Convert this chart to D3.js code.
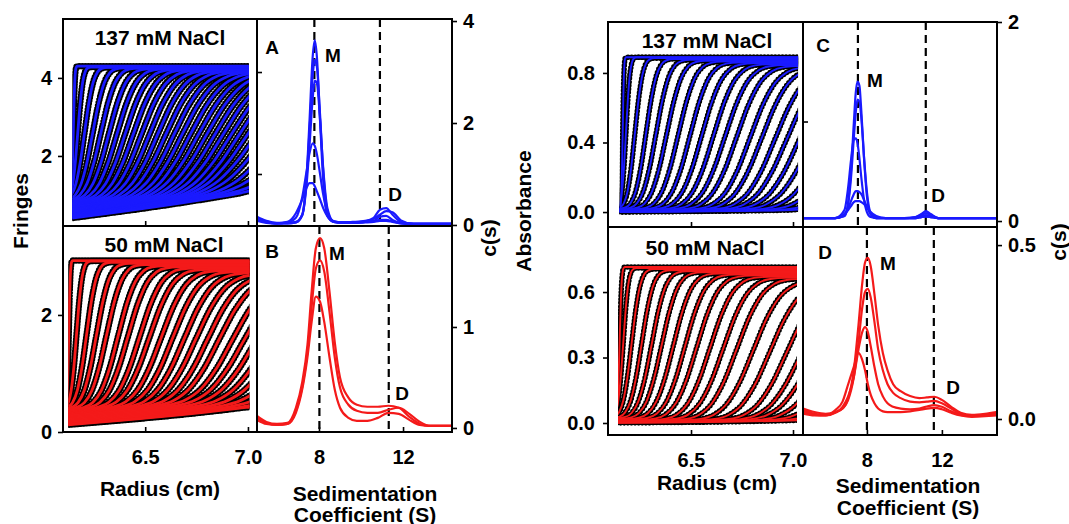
<!DOCTYPE html>
<html>
<head>
<meta charset="utf-8">
<script src="https://cdn.jsdelivr.net/npm/d3@7"></script>
<style>
  body { margin: 0; background: #fff; }
  text { font-family: "Liberation Sans", Arial, sans-serif; font-weight: bold; }
</style>
</head>
<body>
<svg id="fig" width="1069" height="524"></svg>
<script>
// ---- radial scans: boundary midpoint (cm), spread (cm), plateau, baseline offset ----
const tlMid = [6.150, 6.172, 6.205, 6.245, 6.285, 6.325, 6.365, 6.405, 6.445, 6.485, 6.525, 6.565, 6.605, 6.645, 6.685, 6.725, 6.765, 6.805, 6.845, 6.885, 6.925, 6.965, 7.005, 7.05, 7.10, 7.16, 7.23, 7.31, 7.40];
const tlSig = [0.006, 0.02, 0.035, 0.047, 0.057, 0.066, 0.074, 0.081, 0.088, 0.094, 0.1, 0.106, 0.111, 0.116, 0.121, 0.126, 0.131, 0.135, 0.139, 0.143, 0.147, 0.151, 0.155, 0.159, 0.163, 0.167, 0.171, 0.175, 0.18];
const tlTop = [4.3, 4.28, 4.27, 4.26, 4.25, 4.24, 4.23, 4.22, 4.21, 4.2, 4.19, 4.18, 4.17, 4.16, 4.15, 4.14, 4.13, 4.12, 4.11, 4.1, 4.09, 4.08, 4.07, 4.06, 4.05, 4.04, 4.03, 4.02, 4.01];
const tlOff = [0.5, 0.5, 0.48, 0.46, 0.44, 0.42, 0.4, 0.38, 0.36, 0.34, 0.32, 0.3, 0.28, 0.26, 0.24, 0.22, 0.2, 0.18, 0.16, 0.14, 0.12, 0.1, 0.09, 0.08, 0.07, 0.05, 0.04, 0.02, 0];

const blMid = [6.128, 6.166, 6.215, 6.263, 6.312, 6.369, 6.417, 6.474, 6.522, 6.579, 6.635, 6.692, 6.749, 6.806, 6.862, 6.927, 6.983, 7.04, 7.10, 7.16, 7.23, 7.30, 7.38, 7.47];
const blSig = [0.006, 0.022, 0.038, 0.05, 0.06, 0.069, 0.077, 0.084, 0.091, 0.097, 0.103, 0.109, 0.114, 0.119, 0.124, 0.129, 0.134, 0.138, 0.142, 0.146, 0.15, 0.154, 0.158, 0.162];
const blTop = [2.93, 2.92, 2.9, 2.88, 2.86, 2.84, 2.82, 2.8, 2.78, 2.76, 2.74, 2.72, 2.7, 2.68, 2.66, 2.64, 2.62, 2.6, 2.58, 2.56, 2.54, 2.52, 2.5, 2.48];
const blOff = [0.3, 0.29, 0.28, 0.27, 0.26, 0.25, 0.24, 0.23, 0.22, 0.21, 0.2, 0.19, 0.18, 0.17, 0.16, 0.15, 0.13, 0.11, 0.09, 0.07, 0.05, 0.03, 0.01, 0];

const trMid = [6.165, 6.181, 6.225, 6.279, 6.328, 6.380, 6.437, 6.495, 6.552, 6.609, 6.666, 6.723, 6.789, 6.846, 6.912, 6.969, 7.03, 7.09, 7.16, 7.23, 7.31, 7.40];
const trSig = [0.005, 0.016, 0.03, 0.042, 0.052, 0.06, 0.067, 0.074, 0.08, 0.086, 0.092, 0.097, 0.102, 0.107, 0.112, 0.117, 0.121, 0.125, 0.129, 0.133, 0.137, 0.141];
const trTop = [0.89, 0.89, 0.885, 0.88, 0.875, 0.87, 0.865, 0.86, 0.855, 0.85, 0.845, 0.84, 0.835, 0.83, 0.825, 0.82, 0.815, 0.81, 0.805, 0.8, 0.795, 0.79];
const trOff = [0.02, 0.02, 0.02, 0.019, 0.018, 0.017, 0.016, 0.015, 0.014, 0.013, 0.012, 0.011, 0.01, 0.009, 0.008, 0.007, 0.006, 0.005, 0.004, 0.003, 0.002, 0.001];

const brMid = [6.150, 6.168, 6.209, 6.258, 6.307, 6.356, 6.413, 6.470, 6.528, 6.593, 6.658, 6.724, 6.805, 6.887, 6.969, 7.04, 7.10, 7.17, 7.25, 7.33, 7.42];
const brSig = [0.008, 0.02, 0.034, 0.045, 0.054, 0.062, 0.07, 0.077, 0.084, 0.09, 0.096, 0.102, 0.108, 0.113, 0.118, 0.123, 0.128, 0.133, 0.138, 0.143, 0.148];
const brTop = [0.715, 0.71, 0.705, 0.7, 0.695, 0.69, 0.685, 0.68, 0.675, 0.67, 0.665, 0.66, 0.65, 0.64, 0.63, 0.62, 0.61, 0.6, 0.59, 0.58, 0.57];
const brOff = [0.03, 0.028, 0.026, 0.024, 0.022, 0.02, 0.018, 0.016, 0.014, 0.012, 0.011, 0.01, 0.009, 0.008, 0.007, 0.006, 0.005, 0.004, 0.003, 0.002, 0.001];

// shared boundary shape: offset in spreads -> fraction of plateau
const profOff  = [-3.2, -2.4, -1.8, -1.2, -0.6, 0, 0.6, 1.2, 1.8, 2.4, 3.2];
const profFrac = [0, 0.008, 0.036, 0.115, 0.274, 0.5, 0.726, 0.885, 0.964, 0.992, 1];

// ---- c(s) distributions ----
const sA = [5.05, 5.5, 6.0, 6.5, 6.9, 7.2, 7.4, 7.55, 7.7, 7.8, 7.9, 8.05, 8.2, 8.4, 8.7, 9.1, 9.6, 10.2, 10.6, 10.9, 11.2, 11.5, 11.9, 12.5, 13.3, 14.3];
const csA = [
  [0.16, 0.08, 0.04, 0.04, 0.06, 0.19, 0.88, 2.05, 3.30, 3.62, 3.30, 2.05, 0.88, 0.18, 0.06, 0.05, 0.06, 0.08, 0.14, 0.3, 0.33, 0.2, 0.06, 0.02, 0.02, 0.02],
  [0.14, 0.07, 0.03, 0.03, 0.05, 0.2, 0.87, 1.86, 2.92, 3.24, 3.1, 2.17, 1.07, 0.28, 0.06, 0.05, 0.05, 0.07, 0.12, 0.2, 0.27, 0.25, 0.09, 0.02, 0.02, 0.02],
  [0.12, 0.06, 0.03, 0.03, 0.05, 0.19, 0.75, 1.56, 2.48, 2.83, 2.78, 2.07, 1.12, 0.33, 0.07, 0.05, 0.05, 0.06, 0.08, 0.16, 0.18, 0.1, 0.04, 0.02, 0.02, 0.02],
  [0.1, 0.05, 0.03, 0.05, 0.14, 0.54, 1.03, 1.41, 1.6, 1.55, 1.39, 1.0, 0.6, 0.24, 0.07, 0.05, 0.05, 0.06, 0.07, 0.1, 0.1, 0.07, 0.03, 0.02, 0.02, 0.02],
  [0.08, 0.04, 0.03, 0.06, 0.23, 0.5, 0.72, 0.82, 0.82, 0.76, 0.66, 0.5, 0.33, 0.17, 0.06, 0.04, 0.04, 0.05, 0.06, 0.08, 0.08, 0.06, 0.03, 0.02, 0.02, 0.02]
];
const sB = [5.05, 5.5, 6.0, 6.5, 6.9, 7.2, 7.45, 7.65, 7.85, 8.05, 8.25, 8.5, 8.75, 9.0, 9.4, 9.8, 10.3, 10.8, 11.3, 11.8, 12.3, 12.8, 13.3, 14.3];
const csB = [
  [0.12, 0.06, 0.04, 0.05, 0.2, 0.45, 0.82, 1.35, 1.78, 1.88, 1.78, 1.35, 0.85, 0.5, 0.3, 0.23, 0.21, 0.21, 0.22, 0.2, 0.11, 0.04, 0.02, 0.02],
  [0.1, 0.05, 0.03, 0.04, 0.17, 0.4, 0.75, 1.2, 1.58, 1.66, 1.55, 1.15, 0.7, 0.4, 0.23, 0.17, 0.15, 0.15, 0.18, 0.2, 0.14, 0.06, 0.02, 0.02],
  [0.08, 0.04, 0.03, 0.04, 0.15, 0.38, 0.7, 1.05, 1.3, 1.25, 1.05, 0.7, 0.38, 0.2, 0.1, 0.07, 0.07, 0.1, 0.15, 0.14, 0.08, 0.03, 0.02, 0.02]
];
const sC = [4.6, 5.5, 6.3, 6.8, 7.0, 7.15, 7.3, 7.4, 7.5, 7.6, 7.7, 7.85, 8.0, 8.2, 8.5, 9.0, 10.0, 10.6, 10.9, 11.15, 11.4, 11.8, 12.5, 13.5, 14.9];
const csC = [
  [0.03, 0.03, 0.03, 0.05, 0.19, 0.5, 0.98, 1.28, 1.40, 1.36, 1.11, 0.62, 0.25, 0.065, 0.03, 0.03, 0.03, 0.04, 0.07, 0.1, 0.07, 0.03, 0.03, 0.03, 0.03],
  [0.03, 0.03, 0.03, 0.05, 0.17, 0.43, 0.83, 1.08, 1.22, 1.2, 1.04, 0.63, 0.29, 0.08, 0.03, 0.03, 0.03, 0.04, 0.06, 0.08, 0.06, 0.03, 0.03, 0.03, 0.03],
  [0.03, 0.03, 0.03, 0.11, 0.34, 0.61, 0.82, 0.83, 0.78, 0.63, 0.44, 0.21, 0.09, 0.04, 0.03, 0.03, 0.03, 0.03, 0.05, 0.06, 0.05, 0.03, 0.03, 0.03, 0.03],
  [0.03, 0.03, 0.03, 0.07, 0.13, 0.2, 0.27, 0.3, 0.3, 0.29, 0.27, 0.21, 0.14, 0.07, 0.04, 0.03, 0.03, 0.03, 0.04, 0.05, 0.04, 0.03, 0.03, 0.03, 0.03],
  [0.03, 0.03, 0.03, 0.07, 0.11, 0.15, 0.19, 0.2, 0.2, 0.2, 0.19, 0.17, 0.14, 0.09, 0.05, 0.03, 0.03, 0.03, 0.04, 0.045, 0.04, 0.03, 0.03, 0.03, 0.03]
];
const sD = [4.6, 5.2, 5.8, 6.3, 6.7, 7.0, 7.3, 7.55, 7.75, 7.9, 8.05, 8.2, 8.4, 8.6, 8.85, 9.1, 9.4, 9.8, 10.3, 10.8, 11.2, 11.6, 12.0, 12.5, 13.0, 13.6, 14.3, 14.9];
const csD = [
  [0.03, 0.02, 0.015, 0.02, 0.03, 0.06, 0.14, 0.27, 0.39, 0.45, 0.463, 0.44, 0.36, 0.27, 0.19, 0.14, 0.10, 0.08, 0.066, 0.06, 0.062, 0.064, 0.055, 0.035, 0.018, 0.012, 0.015, 0.02],
  [0.025, 0.015, 0.012, 0.018, 0.03, 0.055, 0.12, 0.22, 0.32, 0.365, 0.374, 0.35, 0.28, 0.2, 0.14, 0.1, 0.075, 0.06, 0.05, 0.048, 0.05, 0.052, 0.045, 0.03, 0.015, 0.01, 0.012, 0.015],
  [0.02, 0.012, 0.01, 0.018, 0.035, 0.065, 0.12, 0.2, 0.25, 0.264, 0.25, 0.21, 0.15, 0.1, 0.065, 0.045, 0.035, 0.03, 0.028, 0.03, 0.036, 0.04, 0.035, 0.022, 0.012, 0.008, 0.01, 0.012],
  [0.015, 0.01, 0.01, 0.025, 0.05, 0.1, 0.15, 0.19, 0.17, 0.14, 0.1, 0.07, 0.045, 0.03, 0.022, 0.02, 0.02, 0.02, 0.022, 0.026, 0.03, 0.032, 0.028, 0.018, 0.01, 0.006, 0.008, 0.01]
];
// monomer / dimer reference positions (S)
const dashA = [7.78, 10.9];
const dashB = [8.02, 11.32];
const dashC = [7.52, 11.14];
const dashD = [8.0, 11.57];

const BLUE = "#1a1aff";
const RED = "#f41a1a";
const FONT = "Liberation Sans, Arial, sans-serif";

const svg = d3.select("#fig");
let clipN = 0;

function clip(x, y, w, h) {
  const id = "clip" + (clipN++);
  svg.append("clipPath").attr("id", id).append("rect")
    .attr("x", x).attr("y", y).attr("width", w).attr("height", h);
  return `url(#${id})`;
}

function drawRadial(p) {
  const x = d3.scaleLinear().domain(p.xDom).range([p.x0, p.x1]);
  const y = d3.scaleLinear().domain(p.yDom).range([p.y1, p.y0]);
  const base = d3.scaleLinear().domain([p.rStart, p.rEnd]).range(p.base);
  const g = svg.append("g")
    .attr("clip-path", clip(x(p.rStart) - 2, p.y0, x(p.rEnd) - x(p.rStart) + 4, p.y1 - p.y0));
  const line = d3.line().x(d => x(d[0])).y(d => y(d[1])).curve(d3.curveMonotoneX);

  const scans = p.mids.map((m, i) => {
    const s = p.sigs[i], top = p.tops[i], off = p.offs[i];
    const val = (r, f) => { const b = base(r) + off; return b + f * (top - b); };
    const pts = profOff.map((o, k) => [m + o * s, val(m + o * s, profFrac[k])]);
    if (pts[0][0] > p.rStart - 0.05) pts.unshift([p.rStart - 0.05, val(p.rStart - 0.05, 0)]);
    if (pts[pts.length - 1][0] < p.rEnd + 0.05) pts.push([p.rEnd + 0.05, val(p.rEnd + 0.05, 1)]);
    return pts;
  });

  // raw points (black) first, fitted lines on top
  g.selectAll("path.pts")
    .data(scans)
    .enter()
    .append("path")
    .attr("d", line)
    .attr("fill", "none").attr("stroke", "#000")
    .attr("stroke-width", p.dotW).attr("stroke-linecap", "round")
    .attr("stroke-dasharray", p.dash);
  g.selectAll("path.fit")
    .data(scans)
    .enter()
    .append("path")
    .attr("d", line)
    .attr("fill", "none").attr("stroke", p.color).attr("stroke-width", p.lineW);
  return { x, y };
}

function drawCs(p) {
  const x = d3.scaleLinear().domain(p.xDom).range([p.x0, p.x1]);
  const y = d3.scaleLinear().domain(p.yDom).range([p.y1, p.y0]);
  const g = svg.append("g").attr("clip-path", clip(p.x0, p.y0, p.x1 - p.x0, p.y1 - p.y0));

  g.selectAll("line.ref")
    .data(p.dash)
    .enter()
    .append("line")
    .attr("x1", d => x(d)).attr("x2", d => x(d))
    .attr("y1", p.y0).attr("y2", p.y1)
    .attr("stroke", "#000").attr("stroke-width", 2.2)
    .attr("stroke-dasharray", "8,5");

  const line = d3.line().x((d, i) => x(p.grid[i])).y(d => y(d)).curve(d3.curveMonotoneX);
  g.selectAll("path.cs")
    .data(p.curves)
    .enter()
    .append("path")
    .attr("d", line)
    .attr("fill", "none")
    .attr("stroke", p.color)
    .attr("stroke-width", 2.2);
  return { x, y };
}

function axis(gen, tx, ty) {
  const g = svg.append("g").attr("transform", `translate(${tx},${ty})`).call(gen);
  g.select(".domain").remove();
  g.attr("font-size", 20).attr("font-family", FONT).attr("font-weight", "bold");
  g.selectAll("line").attr("stroke", "#000").attr("stroke-width", 1.6);
  g.selectAll("text").attr("fill", "#000");
  return g;
}

function label(x, y, txt, size, rot) {
  const t = svg.append("text")
    .attr("x", x).attr("y", y)
    .attr("text-anchor", "middle")
    .attr("dominant-baseline", "central")
    .attr("font-size", size)
    .text(txt);
  if (rot) t.attr("transform", `rotate(${rot},${x},${y})`);
  return t;
}

function frame(x0, y0, x1, y1) {
  svg.append("rect")
    .attr("x", x0).attr("y", y0)
    .attr("width", x1 - x0).attr("height", y1 - y0)
    .attr("fill", "none").attr("stroke", "#000").attr("stroke-width", 2);
}

// ===== left figure: interference =====
const tl = drawRadial({ x0: 63, x1: 257, y0: 19, y1: 226, xDom: [6.10, 7.044], yDom: [0.205, 5.51],
  rStart: 6.155, rEnd: 6.995, base: [0.42, 1.05],
  mids: tlMid, sigs: tlSig, tops: tlTop, offs: tlOff, color: BLUE, dotW: 6.5, lineW: 2.8, dash: "0 3" });
const bl = drawRadial({ x0: 63, x1: 257, y0: 226, y1: 432, xDom: [6.10, 7.044], yDom: [0, 3.52],
  rStart: 6.135, rEnd: 6.998, base: [0.13, 0.42],
  mids: blMid, sigs: blSig, tops: blTop, offs: blOff, color: RED, dotW: 6.5, lineW: 2.8, dash: "0 3" });
const ca = drawCs({ x0: 257, x1: 452, y0: 19, y1: 226, xDom: [5.05, 14.33], yDom: [-0.02, 4.04],
  grid: sA, curves: csA, dash: dashA, color: BLUE });
const cb = drawCs({ x0: 257, x1: 452, y0: 226, y1: 432, xDom: [5.05, 14.33], yDom: [-0.04, 2.0],
  grid: sB, curves: csB, dash: dashB, color: RED });

axis(d3.axisLeft(tl.y).tickValues([2, 4]).tickFormat(d3.format("d")).tickSize(5).tickPadding(6), 63, 0);
axis(d3.axisLeft(bl.y).tickValues([0, 2]).tickFormat(d3.format("d")).tickSize(5).tickPadding(6), 63, 0);
axis(d3.axisBottom(tl.x).tickValues([6.5, 7.0]).tickFormat("").tickSize(-5), 0, 226);
axis(d3.axisBottom(bl.x).tickValues([6.5, 7.0]).tickFormat(d3.format(".1f")).tickSize(-5).tickPadding(18), 0, 432);
axis(d3.axisRight(ca.y).tickValues([0, 2, 4]).tickFormat(d3.format("d")).tickSize(5).tickPadding(6), 452, 0);
axis(d3.axisRight(ca.y).tickValues([1, 3]).tickFormat("").tickSize(5), 257, 0);
axis(d3.axisRight(cb.y).tickValues([0, 1]).tickFormat(d3.format("d")).tickSize(5).tickPadding(6), 452, 0);
axis(d3.axisBottom(cb.x).tickValues([8, 12]).tickFormat(d3.format("d")).tickSize(-5).tickPadding(18), 0, 432);

frame(63, 19, 257, 226);
frame(63, 226, 257, 432);
frame(257, 19, 452, 226);
frame(257, 226, 452, 432);

label(160, 37, "137 mM NaCl", 21);
label(164, 244, "50 mM NaCl", 21);
label(272, 47, "A", 19);
label(333, 55, "M", 19);
label(395, 194, "D", 19);
label(272, 251, "B", 19);
label(337, 253, "M", 19);
label(402, 393, "D", 19);
label(20, 211, "Fringes", 21, -90);
label(488, 238, "c(s)", 21, -90);
label(160, 488, "Radius (cm)", 21);
label(365, 493, "Sedimentation", 21);
label(365, 514, "Coefficient (S)", 21);

// ===== right figure: absorbance =====
const tr = drawRadial({ x0: 608, x1: 803, y0: 22, y1: 227, xDom: [6.093, 7.049], yDom: [-0.086, 1.093],
  rStart: 6.16, rEnd: 7.015, base: [0.0, 0.01],
  mids: trMid, sigs: trSig, tops: trTop, offs: trOff, color: BLUE, dotW: 5.5, lineW: 1.9, dash: "0 3.6" });
const br = drawRadial({ x0: 608, x1: 803, y0: 227, y1: 435, xDom: [6.093, 7.049], yDom: [-0.055, 0.898],
  rStart: 6.152, rEnd: 7.01, base: [0.0, 0.01],
  mids: brMid, sigs: brSig, tops: brTop, offs: brOff, color: RED, dotW: 5.5, lineW: 1.9, dash: "0 3.6" });
const cc = drawCs({ x0: 803, x1: 997, y0: 22, y1: 227, xDom: [4.59, 14.94], yDom: [-0.06, 2.0],
  grid: sC, curves: csC, dash: dashC, color: BLUE });
const cd = drawCs({ x0: 803, x1: 997, y0: 227, y1: 435, xDom: [4.59, 14.94], yDom: [-0.046, 0.552],
  grid: sD, curves: csD, dash: dashD, color: RED });

axis(d3.axisLeft(tr.y).tickValues([0, 0.4, 0.8]).tickFormat(d3.format(".1f")).tickSize(5).tickPadding(8), 608, 0);
axis(d3.axisLeft(br.y).tickValues([0, 0.3, 0.6]).tickFormat(d3.format(".1f")).tickSize(5).tickPadding(8), 608, 0);
axis(d3.axisBottom(tr.x).tickValues([6.5, 7.0]).tickFormat("").tickSize(-5), 0, 227);
axis(d3.axisBottom(br.x).tickValues([6.5, 7.0]).tickFormat(d3.format(".1f")).tickSize(-5).tickPadding(18), 0, 435);
axis(d3.axisRight(cc.y).tickValues([0, 2]).tickFormat(d3.format("d")).tickSize(5).tickPadding(6), 997, 0);
axis(d3.axisRight(cc.y).tickValues([1]).tickFormat("").tickSize(5), 803, 0);
axis(d3.axisRight(cd.y).tickValues([0, 0.5]).tickFormat(d3.format(".1f")).tickSize(5).tickPadding(6), 997, 0);
axis(d3.axisBottom(cd.x).tickValues([8, 12]).tickFormat(d3.format("d")).tickSize(-5).tickPadding(18), 0, 435);

frame(608, 22, 803, 227);
frame(608, 227, 803, 435);
frame(803, 22, 997, 227);
frame(803, 227, 997, 435);

label(707, 40, "137 mM NaCl", 21);
label(705, 247, "50 mM NaCl", 21);
label(823, 45, "C", 19);
label(875, 80, "M", 19);
label(938, 195, "D", 19);
label(825, 252, "D", 19);
label(888, 263, "M", 19);
label(953, 387, "D", 19);
label(523, 211, "Absorbance", 21, -90);
label(1058, 242, "c(s)", 21, -90);
label(717, 482, "Radius (cm)", 21);
label(908, 485, "Sedimentation", 21);
label(908, 507, "Coefficient (S)", 21);
</script>
</body>
</html>
